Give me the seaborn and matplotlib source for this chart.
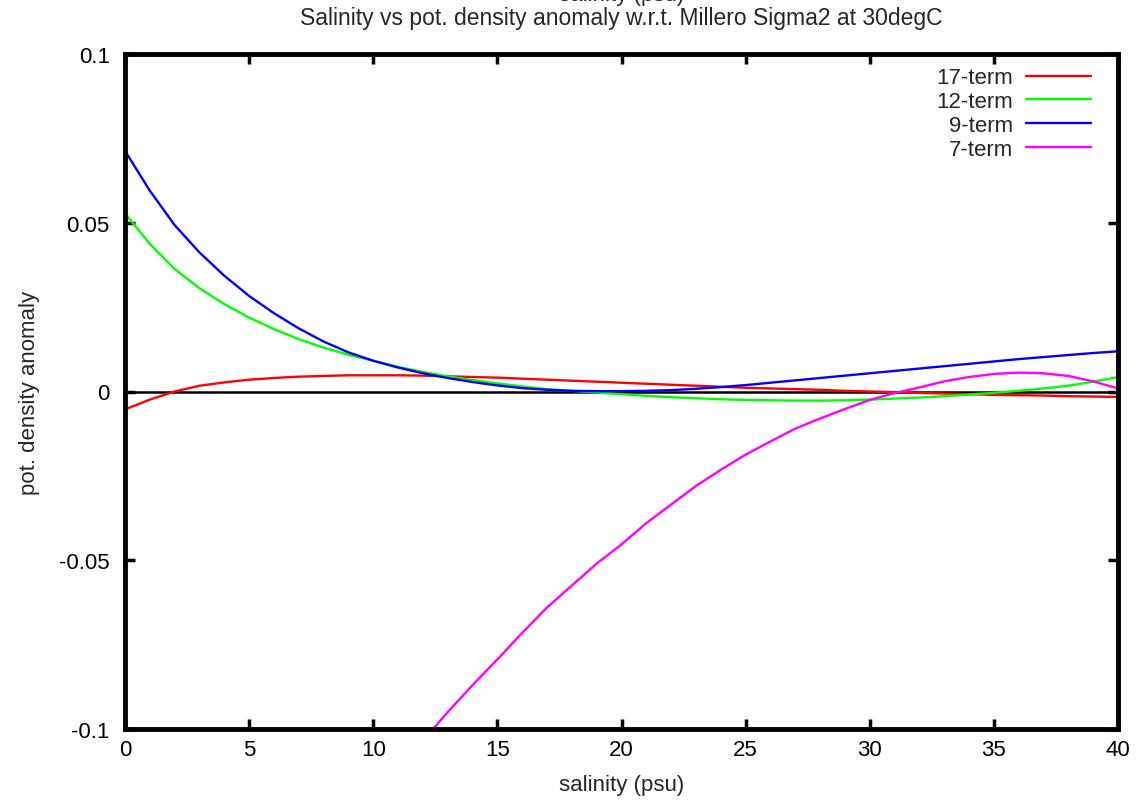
import numpy as np
import pandas as pd
import matplotlib
matplotlib.use("Agg")
import matplotlib.pyplot as plt
import seaborn as sns

# salinity grid (psu)
salinity = list(range(0, 41))

# pot. density anomaly
term17 = [-0.0053, -0.0024, 0.0000, 0.0017, 0.0027, 0.0035, 0.0040, 0.0044, 0.0046, 0.0048,
          0.0048, 0.0048, 0.0047, 0.0045, 0.0043, 0.0041, 0.0038, 0.0035, 0.0032, 0.0029,
          0.0026, 0.0023, 0.0020, 0.0017, 0.0014, 0.0011, 0.0009, 0.0007, 0.0005, 0.0002,
          0.0000, -0.0002, -0.0004, -0.0006, -0.0008, -0.0010, -0.0011, -0.0012, -0.0014, -0.0015,
          -0.0016]
term12 = [0.0528, 0.0437, 0.0363, 0.0306, 0.0259, 0.0219, 0.0185, 0.0155, 0.0130, 0.0109,
          0.0091, 0.0073, 0.0058, 0.0045, 0.0034, 0.0024, 0.0015, 0.0007, 0.0002, -0.0003,
          -0.0008, -0.0013, -0.0017, -0.0020, -0.0023, -0.0025, -0.0026, -0.0027, -0.0027, -0.0026,
          -0.0024, -0.0021, -0.0018, -0.0014, -0.0009, -0.0004, 0.0002, 0.0009, 0.0017, 0.0029,
          0.0043]
term9 = [0.0713, 0.0595, 0.0493, 0.0412, 0.0343, 0.0283, 0.0232, 0.0187, 0.0148, 0.0116,
         0.0091, 0.0071, 0.0054, 0.0040, 0.0028, 0.0018, 0.0010, 0.0005, 0.0002, 0.0001,
         0.0001, 0.0002, 0.0004, 0.0008, 0.0013, 0.0019, 0.0026, 0.0033, 0.0040, 0.0047,
         0.0054, 0.0061, 0.0068, 0.0075, 0.0082, 0.0089, 0.0096, 0.0102, 0.0108, 0.0114,
         0.0119]
# 7-term is below the axis until about 12 psu
salinity7 = list(range(12, 41))
term7 = [-0.1035, -0.0950, -0.0870, -0.0794, -0.0715, -0.0640, -0.0575, -0.0510, -0.0453, -0.0390,
         -0.0335, -0.0280, -0.0232, -0.0187, -0.0148, -0.0110, -0.0080, -0.0052, -0.0025, -0.0005,
         0.0012, 0.0030, 0.0043, 0.0052, 0.0056, 0.0054, 0.0046, 0.0030, 0.0009]

series = ['17-term', '12-term', '9-term', '7-term']
colors = ['#ff0000', '#00ff00', '#0000ff', '#ff00ff']

df = pd.DataFrame({
    'salinity': salinity * 3 + salinity7,
    'anomaly': term17 + term12 + term9 + term7,
    'model': ['17-term'] * 41 + ['12-term'] * 41 + ['9-term'] * 41 + ['7-term'] * len(term7),
})

sns.set_style("white")
plt.rcParams['font.family'] = ['Liberation Sans', 'DejaVu Sans']
fs = 16

fig = plt.figure(figsize=(11.41, 8.03), dpi=100)
ax = fig.add_axes([125 / 1141, 1 - 730 / 803, (1118 - 125) / 1141, (730 - 55) / 803])

ax.axhline(0, color='black', lw=1.8, zorder=1)
sns.lineplot(data=df, x='salinity', y='anomaly', hue='model', hue_order=series,
             palette=dict(zip(series, colors)), lw=1.7, ax=ax, sort=False,
             estimator=None, zorder=2)

ax.set_xlim(0, 40)
ax.set_ylim(-0.1, 0.1)
ax.set_xticks(range(0, 41, 5))
ax.set_yticks([-0.1, -0.05, 0, 0.05, 0.1])
ax.set_yticklabels(['-0.1', '-0.05', '0', '0.05', '0.1'])
ax.tick_params(direction='in', length=7, width=2.5, labelsize=fs, pad=7,
               top=True, right=True, bottom=True, left=True, colors='black')
ax.tick_params(axis='y', pad=11)
for sp in ax.spines.values():
    sp.set_linewidth(3.5)
    sp.set_color('black')

ax.set_xlabel('salinity (psu)', fontsize=fs, labelpad=10)
ax.set_ylabel('pot. density anomaly', fontsize=fs, labelpad=14)

# titles centred over the plot area
cx = (125 + 1118) / 2 / 1141
fig.text(cx, 1.006, 'salinity (psu)', ha='center', va='center', fontsize=fs)
fig.text(cx, 1 - 19 / 803, 'Salinity vs pot. density anomaly w.r.t. Millero Sigma2 at 30degC',
         ha='center', va='center', fontsize=16.5)

leg = ax.legend(loc='upper right', frameon=False, markerfirst=False, fontsize=fs,
                handlelength=2.9, handletextpad=0.6, labelspacing=0.13,
                borderaxespad=0.2, bbox_to_anchor=(0.986, 1.0))

fig.savefig('out.png', dpi=100)
